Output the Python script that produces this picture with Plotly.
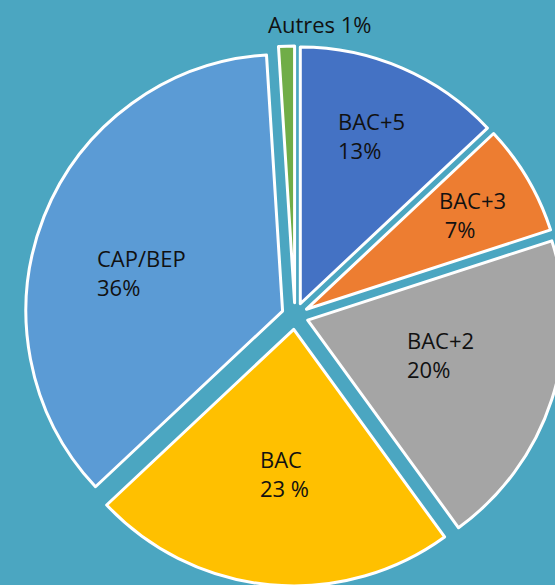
import plotly.graph_objects as go

# ---- data ----
categories = ["BAC+5", "BAC+3", "BAC+2", "BAC", "CAP/BEP", "Autres"]
shares = [13, 7, 20, 23, 36, 1]
label_texts = ["BAC+5<br>13%", "BAC+3<br>\u00a07%", "BAC+2<br>20%", "BAC<br>23\u00a0%", "CAP/BEP<br>36%", "Autres 1%"]

# ---- style ----
colors = ["#4472C4", "#ED7D31", "#A5A5A5", "#FFC000", "#5B9BD5", "#70AD47"]
bg = "#4BA6C1"
W, H = 570, 590
# label anchor points in pixels (left edge, vertical centre)
label_px = [(336, 135), (437, 214), (405, 355), (258, 473), (95, 273), (266, 24)]

# pie box in pixels (left, top, right, bottom)
box = (25, 46, 565, 586)

fig = go.Figure(go.Pie(
    labels=categories,
    values=shares,
    sort=False,
    direction="clockwise",
    rotation=0,
    pull=[0.052] * len(shares),
    marker=dict(colors=colors, line=dict(color="white", width=3)),
    textinfo="none",
    hoverinfo="label+percent",
    showlegend=False,
    domain=dict(x=[box[0] / W, box[2] / W], y=[1 - box[3] / H, 1 - box[1] / H]),
))

for (px, py), txt in zip(label_px, label_texts):
    fig.add_annotation(
        x=px / W, y=1 - py / H, xref="paper", yref="paper",
        xanchor="left", yanchor="middle", align="left",
        text=txt, showarrow=False,
        font=dict(family="Open Sans", size=22, color="#111111"),
    )

fig.update_layout(
    width=W, height=H,
    margin=dict(l=0, r=0, t=0, b=0),
    paper_bgcolor=bg, plot_bgcolor=bg,
)

fig.write_html(
    "out.html",
    config={"displayModeBar": False},
    post_script="document.body.style.margin='0';document.body.style.overflow='hidden';document.documentElement.style.overflow='hidden';",
)
